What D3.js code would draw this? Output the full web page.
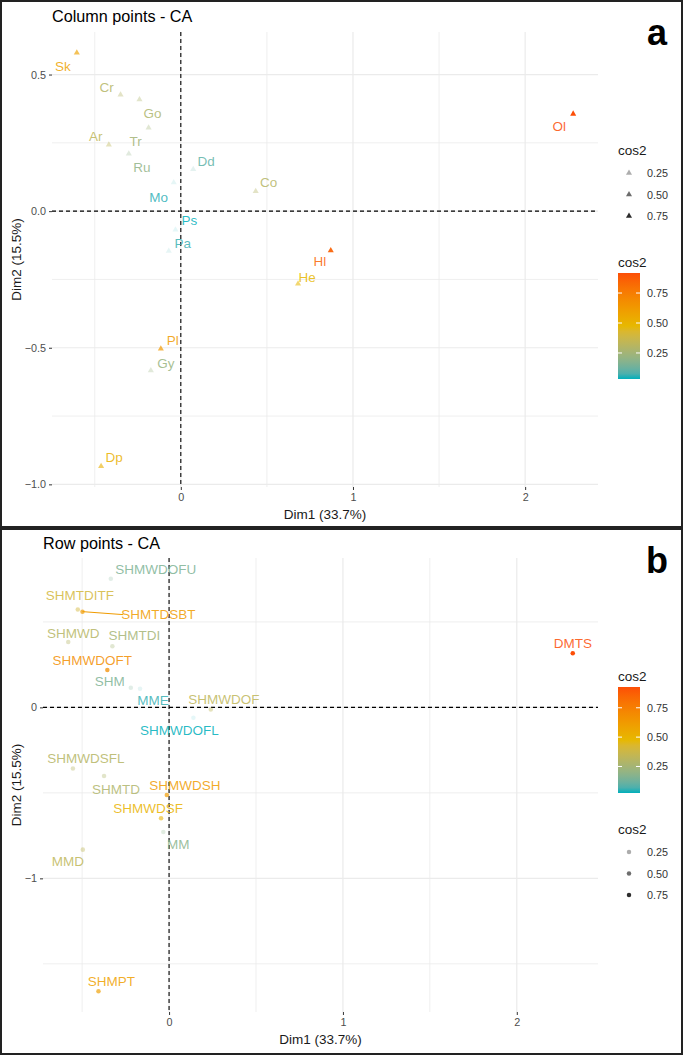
<!DOCTYPE html>
<meta charset="utf-8">
<title>CA biplots</title>
<script src="https://d3js.org/d3.v7.min.js"></script>
<style>
  body { margin: 0; background: #fff; }
  text { font-family: "Liberation Sans", Arial, sans-serif; }
</style>
<div id="chart"></div>
<script>

// ---- panel a : column points
var colNames = ["Sk", "Cr", "Go", "Tr", "Ar", "Ru", "Dd", "Co", "Mo", "Ps", "Pa", "Hl", "He", "Ol", "Pl", "Gy", "Dp"];
var colDim1  = [-0.604, -0.350, -0.240, -0.187, -0.418, -0.302, 0.072, 0.435, -0.041, -0.031, -0.070, 0.871, 0.681, 2.279, -0.116, -0.174, -0.463];
var colDim2  = [0.580, 0.426, 0.409, 0.305, 0.243, 0.210, 0.153, 0.073, 0.105, -0.068, -0.146, -0.144, -0.266, 0.356, -0.504, -0.583, -0.934];
var colCos2  = [0.58, 0.30, 0.28, 0.25, 0.33, 0.20, 0.10, 0.30, 0.05, 0.033, 0.06, 0.85, 0.48, 0.917, 0.62, 0.22, 0.52];

// ---- panel b : row points
var rowNames = ["SHMWDOFU", "SHMTDITF", "SHMTDSBT", "SHMWD", "SHMTDI", "SHMWDOFT", "SHM", "MME", "SHMWDOF", "SHMWDOFL",
                "SHMWDSFL", "SHMTD", "SHMWDSH", "SHMWDSF", "MM", "MMD", "SHMPT", "DMTS"];
var rowDim1  = [-0.335, -0.525, -0.498, -0.580, -0.326, -0.355, -0.220, -0.167, 0.240, 0.140,
                -0.553, -0.374, -0.013, -0.046, -0.033, -0.496, -0.406, 2.322];
var rowDim2  = [0.753, 0.573, 0.560, 0.382, 0.358, 0.218, 0.115, 0.109, -0.012, -0.060,
                -0.357, -0.402, -0.513, -0.649, -0.729, -0.832, -1.661, 0.316];
var rowCos2  = [0.15, 0.40, 0.62, 0.30, 0.25, 0.68, 0.15, 0.05, 0.33, 0.024,
                0.30, 0.28, 0.62, 0.50, 0.18, 0.33, 0.60, 0.927];

var legendBreaks = [0.25, 0.50, 0.75];
var gradCols = ["#00AFBB", "#E7B800", "#FC4E07"];

// where ggrepel put the labels (px offset from the point)
var colNudge = {
  Sk: [-14, 14], Cr: [-14, -7], Go: [13, 14], Tr: [-13, 14], Ar: [-13, -8], Ru: [13, 14],
  Dd: [13, -8], Co: [13, -9], Mo: [-15, 15], Ps: [14, -9], Pa: [14, -8], Hl: [-11, 11],
  He: [9, -6], Ol: [-14, 13], Pl: [12, -8], Gy: [15, -7], Dp: [13, -9]
};
var rowNudge = {
  SHMWDOFU: [45, -9], SHMTDITF: [2, -14], SHMTDSBT: [76, 3], SHMWD: [5, -9], SHMTDI: [22, -11],
  SHMWDOFT: [-15, -10], SHM: [-21, -6], MME: [13, 12], SHMWDOF: [13, -10], SHMWDOFL: [-14, 13],
  SHMWDSFL: [13, -10], SHMTD: [12, 13], SHMWDSH: [18, -10], SHMWDSF: [-13, -10], MM: [15, 12],
  MMD: [-15, 12], SHMPT: [13, -10], DMTS: [0, -10]
};

var svg = d3.select("#chart").append("svg")
    .attr("width", 685)
    .attr("height", 1057);

var defs = svg.append("defs");

function expand(ext) {
  var d = (ext[1] - ext[0]) * 0.05;
  return [ext[0] - d, ext[1] + d];
}

function drawPanel(p) {
  var g = svg.append("g");

  var pts = p.names.map(function(n, i) {
    return { name: n, x: p.dim1[i], y: p.dim2[i], c: p.cos2[i] };
  });

  var x = d3.scaleLinear().domain(expand(d3.extent(p.dim1))).range([p.left, p.right]);
  var y = d3.scaleLinear().domain(expand(d3.extent(p.dim2))).range([p.bottom, p.top]);

  var lim = d3.extent(p.cos2);
  var color = d3.scaleLinear()
    .domain([lim[0], (lim[0] + lim[1]) / 2, lim[1]])
    .range(gradCols)
    .interpolate(d3.interpolateLab);
  var alpha = d3.scaleLinear().domain(lim).range([0.1, 1]);

  // grid
  var xMin = p.xMajor.map(function(v) { return v + 0.5; }).concat([p.xMajor[0] - 0.5]);
  var yStep = p.yMajor[1] - p.yMajor[0];
  var yMin = p.yMajor.map(function(v) { return v + yStep / 2; }).concat([p.yMajor[0] - yStep / 2]);
  xMin = xMin.filter(function(v) { return x(v) >= p.left && x(v) <= p.right; });
  yMin = yMin.filter(function(v) { return y(v) >= p.top && y(v) <= p.bottom; });

  g.selectAll(".gx").data(xMin.concat(p.xMajor)).join("line")
    .attr("x1", function(d) { return x(d); }).attr("x2", function(d) { return x(d); })
    .attr("y1", p.top).attr("y2", p.bottom)
    .attr("stroke", "#ebebeb")
    .attr("stroke-width", function(d, i) { return i < xMin.length ? 0.8 : 1.2; });
  g.selectAll(".gy").data(yMin.concat(p.yMajor)).join("line")
    .attr("y1", function(d) { return y(d); }).attr("y2", function(d) { return y(d); })
    .attr("x1", p.left).attr("x2", p.right)
    .attr("stroke", "#ebebeb")
    .attr("stroke-width", function(d, i) { return i < yMin.length ? 0.8 : 1.2; });

  // axes
  var ax = g.append("g").attr("transform", "translate(0," + p.bottom + ")")
    .call(d3.axisBottom(x).tickValues(p.xMajor).tickFormat(d3.format("d")).tickSize(3).tickPadding(3));
  var ay = g.append("g").attr("transform", "translate(" + p.left + ",0)")
    .call(d3.axisLeft(y).tickValues(p.yMajor).tickFormat(d3.format(p.yFmt)).tickSize(3).tickPadding(3));
  [ax, ay].forEach(function(a) {
    a.select(".domain").remove();
    a.selectAll("line").attr("stroke", "#333");
    a.selectAll("text").attr("fill", "#4d4d4d").style("font-size", "10.8px")
      .style("font-family", "'Liberation Sans', Arial, sans-serif");
  });

  // zero lines
  g.append("line").attr("x1", x(0)).attr("x2", x(0)).attr("y1", p.top).attr("y2", p.bottom)
    .attr("stroke", "#000").attr("stroke-width", 1.1).attr("stroke-dasharray", "4,3");
  g.append("line").attr("y1", y(0)).attr("y2", y(0)).attr("x1", p.left).attr("x2", p.right)
    .attr("stroke", "#000").attr("stroke-width", 1.1).attr("stroke-dasharray", "4,3");

  // segment for the label that was pushed far away
  pts.forEach(function(d) {
    var n = p.nudge[d.name];
    if (Math.abs(n[0]) > 60) {
      var sx = n[0] > 0 ? n[0] - d.name.length * 4.4 : n[0] + d.name.length * 4.4;
      g.append("line")
        .attr("x1", x(d.x)).attr("y1", y(d.y))
        .attr("x2", x(d.x) + sx).attr("y2", y(d.y) + n[1])
        .attr("stroke", color(d.c)).attr("stroke-width", 1);
    }
  });

  // points
  var sym = d3.symbol().type(p.shape).size(p.symSize);
  g.selectAll(".pt").data(pts).join("path")
    .attr("d", sym)
    .attr("transform", function(d) { return "translate(" + x(d.x) + "," + y(d.y) + ")"; })
    .attr("fill", function(d) { return color(d.c); })
    .attr("fill-opacity", function(d) { return alpha(d.c); });

  // labels
  g.selectAll(".lab").data(pts).join("text")
    .attr("x", function(d) { return x(d.x) + p.nudge[d.name][0]; })
    .attr("y", function(d) { return y(d.y) + p.nudge[d.name][1]; })
    .attr("text-anchor", "middle")
    .attr("dominant-baseline", "central")
    .style("font-size", "13.5px")
    .attr("fill", function(d) { return color(d.c); })
    .attr("fill-opacity", 0.85)
    .text(function(d) { return d.name; });

  // titles
  g.append("text").attr("x", p.left).attr("y", p.titleY).style("font-size", "16.2px")
    .attr("fill", "#000").text(p.title);
  g.append("text").attr("x", 657).attr("y", p.box[1] + 44).attr("text-anchor", "middle")
    .style("font-size", "36px").style("font-weight", "bold").attr("fill", "#000").text(p.tag);
  g.append("text").attr("x", (p.left + p.right) / 2).attr("y", p.bottom + 32)
    .attr("text-anchor", "middle").style("font-size", "13.5px").attr("fill", "#1a1a1a")
    .text("Dim1 (33.7%)");
  g.append("text").attr("transform", "translate(21," + (p.top + p.bottom) / 2 + ") rotate(-90)")
    .attr("text-anchor", "middle").style("font-size", "13.5px").attr("fill", "#1a1a1a")
    .text("Dim2 (15.5%)");

  // legends
  function alphaLegend(top) {
    g.append("text").attr("x", 618).attr("y", top + 5).style("font-size", "13.5px").attr("fill", "#1a1a1a").text("cos2");
    legendBreaks.forEach(function(v, i) {
      var ky = top + 23 + i * 21.5;
      g.append("path").attr("d", sym).attr("transform", "translate(629," + ky + ")")
        .attr("fill", "#000").attr("fill-opacity", alpha(v));
      g.append("text").attr("x", 647).attr("y", ky).attr("dominant-baseline", "central")
        .style("font-size", "10.8px").attr("fill", "#333").text(d3.format(".2f")(v));
    });
  }
  function colorBar(top) {
    g.append("text").attr("x", 618).attr("y", top + 5).style("font-size", "13.5px").attr("fill", "#1a1a1a").text("cos2");
    var y0 = top + 11, h = 106;
    var gid = "grad" + p.tag;
    var lg = defs.append("linearGradient").attr("id", gid)
      .attr("x1", 0).attr("y1", 1).attr("x2", 0).attr("y2", 0);
    d3.range(0, 1.0001, 0.05).forEach(function(t) {
      lg.append("stop").attr("offset", t).attr("stop-color", color(lim[0] + t * (lim[1] - lim[0])));
    });
    g.append("rect").attr("x", 618).attr("y", y0).attr("width", 22).attr("height", h).attr("fill", "url(#" + gid + ")");
    var cy = d3.scaleLinear().domain(lim).range([y0 + h, y0]);
    legendBreaks.forEach(function(v) {
      g.append("line").attr("x1", 618).attr("x2", 622).attr("y1", cy(v)).attr("y2", cy(v)).attr("stroke", "#fff");
      g.append("line").attr("x1", 636).attr("x2", 640).attr("y1", cy(v)).attr("y2", cy(v)).attr("stroke", "#fff");
      g.append("text").attr("x", 647).attr("y", cy(v)).attr("dominant-baseline", "central")
        .style("font-size", "10.8px").attr("fill", "#333").text(d3.format(".2f")(v));
    });
  }
  if (p.alphaFirst) { alphaLegend(p.leg1); colorBar(p.leg2); }
  else { colorBar(p.leg1); alphaLegend(p.leg2); }

  // frame
  g.append("rect").attr("x", p.box[0]).attr("y", p.box[1]).attr("width", p.box[2]).attr("height", p.box[3])
    .attr("fill", "none").attr("stroke", "#222").attr("stroke-width", 2);
}

drawPanel({
  names: colNames, dim1: colDim1, dim2: colDim2, cos2: colCos2, nudge: colNudge,
  box: [1, 1, 681, 526], left: 52, right: 598, top: 32, bottom: 487,
  xMajor: [0, 1, 2], yMajor: [-1.0, -0.5, 0.0, 0.5], yFmt: ".1f",
  shape: d3.symbolTriangle, symSize: 16,
  title: "Column points - CA", titleY: 22, tag: "a",
  alphaFirst: true, leg1: 150, leg2: 262
});

drawPanel({
  names: rowNames, dim1: rowDim1, dim2: rowDim2, cos2: rowCos2, nudge: rowNudge,
  box: [1, 529, 681, 525], left: 43, right: 598, top: 558, bottom: 1012,
  xMajor: [0, 1, 2], yMajor: [-1, 0], yFmt: "d",
  shape: d3.symbolCircle, symSize: 16,
  title: "Row points - CA", titleY: 549, tag: "b",
  alphaFirst: false, leg1: 676, leg2: 829
});

</script>
